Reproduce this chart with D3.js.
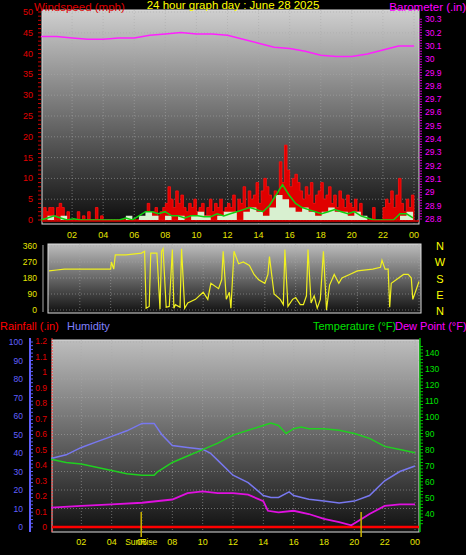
<!DOCTYPE html><html><head><meta charset="utf-8">
<script src="https://cdn.jsdelivr.net/npm/d3@7"></script>
<style>body{margin:0;background:#000}svg{display:block;font-family:"Liberation Sans",Arial,sans-serif}</style></head><body>
<script>
const hourTicks=["02","04","06","08","10","12","14","16","18","20","22","00"];
// wind speed gusts, every 10 minutes 0..24
const gust=[0,3,2,3,3,1,3,4,3,0,2,0,0,0,2,0,1,0,2,0,0,3,0,1,0,0,0,0,0,0,0,0,0,0,0,0,0,0,0,0,0,4,0,2,3,1,2,3,4,8,5,3,7,4,6,3,2,4,3,5,2,3,4,1,3,5,2,4,3,5,2,3,4,3,6,2,5,4,8,3,7,5,6,9,4,7,10,8,6,5,7,6,14,9,18,12,8,10,11,9,7,5,8,6,9,4,6,7,9,5,6,8,4,6,3,7,5,3,6,4,3,5,2,4,0,0,0,0,3,0,0,0,3,5,4,7,3,6,10,4,2,5,3,6,4];
const gustStep=1/6;
const avg=[0,0.5,1,0.5,0,0.3,0,0,0,0,0,0,0,0.5,0,1,2,2,1.5,2,1,1,0.5,1,1,0.8,0.8,1.5,1,1.5,2,2.5,3,2.5,2,3.5,6,8.5,6,4,3,2.5,2,1.5,2,2.5,2,1.5,2,1,0.5,0,0,0,0,1.5,1.5,0.5,1];
const spd=[0,1,0,1,0,0,0,0,0,0,0,0,0,1,0,1,2,1,0,1,0,1,0,1,2,1,0,1,2,2,0,2,3,2,1,3,6,5,3,2,3,2,1,2,3,2,2,1,2,1,0,0,0,0,0,1,2,0,1];
const windStep=0.42;
const baroHours=[0,1,2,3,4,5,6,7,8,9,10,11,12,13,14,15,16,17,18,19,20,21,22,23,24];
const baro=[30.17,30.17,30.16,30.15,30.15,30.16,30.16,30.18,30.19,30.2,30.19,30.19,30.18,30.15,30.12,30.09,30.08,30.06,30.03,30.02,30.02,30.04,30.07,30.1,30.1];
const dirHours=[0,0.5,1,2,3,3.5,4,4.05,4.2,4.3,4.5,5,6,6.2,6.3,6.5,6.6,7,7.2,7.3,7.4,7.6,7.8,8,8.1,8.2,8.5,8.6,8.8,9,9.5,10,10.3,10.5,11,11.2,11.3,11.5,11.7,11.8,12,12.3,12.6,13,13.3,13.6,14,14.2,14.3,14.6,15,15.2,15.3,15.5,15.8,16,16.3,16.5,16.7,16.8,17,17.2,17.4,17.6,17.8,18,18.2,18.5,18.8,19,19.5,20,21,21.5,21.6,21.8,22,22.1,22.2,23,23.3,23.5,23.6,24];
const dirDeg=[220,225,230,230,230,230,230,270,230,310,310,310,320,330,10,20,320,320,5,330,345,15,20,340,10,30,15,345,10,40,60,100,60,150,120,170,330,60,100,10,330,260,270,250,200,170,150,200,300,90,60,30,340,20,60,70,30,30,80,340,40,80,10,60,330,0,140,200,150,180,200,220,230,240,280,230,230,15,150,200,200,180,60,160];
const humHours=[0,1,2,3,4,5,6,6.8,7.3,8,9,10,10.5,11,12,13,14,14.5,15,15.7,16,17,18,19,20,21,22,23,24];
const hum=[37,39,43,46,49,52,56,56,50,44,43,42,40,36,28,24,17,16,16,19,17,15,14,13,14,17,25,30,33];
const tHours=[0,1,2,3,4,5,6,6.8,7,8,9,10,11,12,13,14,14.5,15,15.5,16,16.5,17,18,19,20,21,22,23,24];
const temp=[74,72,71,69,67,65,64,64,66,72,76,80,84,89,92,95,96.5,95,90,93,94,93,93,92,90,87,82,80,78];
const dHours=[0,2,4,6,8,9,10,11,12,13,14,14.3,15,16,17,18,19,19.8,20.5,21,22,23,24];
const dew=[44,45,46,47,49,53,54,53,53,52,48,42,41,42,40,37,35,33,37,40,45,46,46];
const rain=[0,0];

const W=466,H=555;
const svg=d3.select("body").append("svg").attr("width",W).attr("height",H);
const defs=svg.append("defs");
function grad(id,c1,c2){const g=defs.append("linearGradient").attr("id",id).attr("x1",0).attr("y1",0).attr("x2",0).attr("y2",1);
g.append("stop").attr("offset","0").attr("stop-color",c1);g.append("stop").attr("offset","1").attr("stop-color",c2);}
grad("g1","#cfcfcf","#0c0c0c");grad("g2","#bdbdbd","#101010");
function txt(x,y,t,c,size,anchor){svg.append("text").attr("x",x).attr("y",y).attr("fill",c).attr("font-size",size||11).attr("text-anchor",anchor||"start").text(t);}
function panel(x0,x1,y0,y1,g){svg.append("rect").attr("x",x0).attr("y",y0).attr("width",x1-x0).attr("height",y1-y0).attr("fill","url(#"+g+")").attr("stroke","#ddd").attr("stroke-width",1);}
function grid(x,ys,x0,x1,y0,y1){const gg=svg.append("g").attr("stroke","#aaa").attr("stroke-opacity",0.55).attr("stroke-dasharray","1,2");
for(let h=2;h<=24;h+=2)gg.append("line").attr("x1",x(h)).attr("x2",x(h)).attr("y1",y0).attr("y2",y1);
ys.forEach(v=>gg.append("line").attr("x1",x0).attr("x2",x1).attr("y1",v).attr("y2",v));}
function xlabels(x,y){hourTicks.forEach((t,i)=>txt(x(2*(i+1)),y,t,"#e6e600",9,"middle"));}

// ===== top chart
const x1=d3.scaleLinear().domain([0,24]).range([41,414]);
const yw=d3.scaleLinear().domain([0,50]).range([220,12]);
const yb=d3.scaleLinear().domain([28.8,30.3]).range([219,19.3]);
panel(42,419,10,224,"g1");
grid(x1,d3.range(0,51,5).map(yw),42,419,10,224);
txt(34,11,"Windspeed (mph)","#e00000",11.5);txt(233,9,"24 hour graph day : June 28 2025","#ffff00",11.5,"middle");txt(466,11,"Barometer (.in)","#ff00ff",11.5,"end");
d3.range(0,51,5).forEach(v=>txt(33,yw(v)+3,v,"#e00000",9,"end"));
d3.range(0,51,1).forEach(v=>svg.append("line").attr("x1",38).attr("x2",41).attr("y1",yw(v)).attr("y2",yw(v)).attr("stroke","#c00"));
d3.range(28.8,30.31,0.1).forEach(v=>txt(425,yb(v)+3,(+v.toFixed(1)).toString(),"#ff00ff",8.5,"start"));
d3.range(28.8,30.31,0.02).forEach(v=>svg.append("line").attr("x1",419).attr("x2",422).attr("y1",yb(v)).attr("y2",yb(v)).attr("stroke","#c0c"));
const gPts=gust.map((v,i)=>[i*gustStep,v]).filter(d=>d[0]<=24);
svg.append("path").attr("d",d3.area().x(d=>x1(d[0])).y0(yw(0)).y1(d=>yw(d[1])).curve(d3.curveStepAfter)(gPts)).attr("fill","#e00000").attr("stroke","#ff1010").attr("stroke-width",0.8);
const sPts=spd.map((v,i)=>[i*windStep,v]).filter(d=>d[0]<=24);
svg.append("path").attr("d",d3.area().x(d=>x1(d[0])).y0(yw(0)).y1(d=>yw(d[1])).curve(d3.curveStepAfter)(sPts)).attr("fill","#d8f0d0");
const aPts=avg.map((v,i)=>[i*windStep,v]).filter(d=>d[0]<=24);
svg.append("path").attr("d",d3.line().x(d=>x1(d[0])).y(d=>yw(d[1]))(aPts)).attr("fill","none").attr("stroke","#10d010").attr("stroke-width",1.5);
svg.append("line").attr("x1",42).attr("x2",419).attr("y1",yw(0)+1).attr("y2",yw(0)+1).attr("stroke","#e00000").attr("stroke-width",1.5);
svg.append("path").attr("d",d3.line().x((d,i)=>x1(baroHours[i])).y(d=>yb(d))(baro)).attr("fill","none").attr("stroke","#ff20ff").attr("stroke-width",1.5);
xlabels(x1,238);

// ===== wind dir
const x2=d3.scaleLinear().domain([0,24]).range([49,419]);
const yd=d3.scaleLinear().domain([0,360]).range([310,246]);
panel(48,421,244,313,"g2");
grid(x2,[0,90,180,270,360].map(yd),48,421,244,313);
[0,90,180,270,360].forEach(v=>txt(37,yd(v)+3,v,"#e6e600",8.5,"end"));
svg.append("line").attr("x1",43).attr("x2",43).attr("y1",245).attr("y2",312).attr("stroke","#aaa");
svg.append("path").attr("d",d3.line().x((d,i)=>x2(dirHours[i])).y(d=>yd(d))(dirDeg)).attr("fill","none").attr("stroke","#f0f020").attr("stroke-width",1.2);
["N","W","S","E","N"].forEach((t,i)=>txt(440,250+i*16.3,t,"#ffff00",11,"middle"));

// ===== bottom
txt(0,330,"Rainfall (.in)","#ff0000",11);txt(67,330,"Humidity","#8080ff",11);
txt(313,330,"Temperature (°F)","#00e000",11);txt(395,330,"Dew Point (°F)","#ff00ff",11);
const x3=d3.scaleLinear().domain([0,24]).range([51,415]);
const yh=d3.scaleLinear().domain([0,100]).range([527,342]);
const yr=d3.scaleLinear().domain([0,1.2]).range([527,341]);
const yt=d3.scaleLinear().domain([40,140]).range([514,353]);
panel(52,419,340,532,"g2");
grid(x3,d3.range(0,101,10).map(yh),52,419,340,532);
svg.append("line").attr("x1",30).attr("x2",30).attr("y1",338).attr("y2",532).attr("stroke","#6060ff").attr("stroke-width",2);
svg.append("line").attr("x1",52).attr("x2",52).attr("y1",338).attr("y2",532).attr("stroke","#ff3030").attr("stroke-width",1).attr("stroke-dasharray","2,1");
svg.append("line").attr("x1",420).attr("x2",420).attr("y1",338).attr("y2",532).attr("stroke","#00c000").attr("stroke-width",1.5);
d3.range(0,101,10).forEach(v=>txt(23,yh(v)+3,v,"#6060ff",8.5,"end"));
d3.range(0,101,2).forEach(v=>svg.append("line").attr("x1",30).attr("x2",33).attr("y1",yh(v)).attr("y2",yh(v)).attr("stroke","#6060ff"));
d3.range(0,1.21,0.1).forEach(v=>txt(47,yr(v)+3,(+v.toFixed(1)).toString(),"#e00000",8.5,"end"));
d3.range(40,141,10).forEach(v=>txt(425,yt(v)+3,v,"#00e000",8.5,"start"));
d3.range(34,146,2).forEach(v=>svg.append("line").attr("x1",420).attr("x2",423).attr("y1",yt(v)).attr("y2",yt(v)).attr("stroke","#00c000"));
svg.append("line").attr("x1",52).attr("x2",419).attr("y1",yr(rain[0])).attr("y2",yr(rain[1])).attr("stroke","#ff0000").attr("stroke-width",2.5);
svg.append("path").attr("d",d3.line().x((d,i)=>x3(humHours[i])).y(d=>yh(d))(hum)).attr("fill","none").attr("stroke","#7878f0").attr("stroke-width",1.5);
svg.append("path").attr("d",d3.line().x((d,i)=>x3(tHours[i])).y(d=>yt(d))(temp)).attr("fill","none").attr("stroke","#20d020").attr("stroke-width",1.5);
svg.append("path").attr("d",d3.line().x((d,i)=>x3(dHours[i])).y(d=>yt(d))(dew)).attr("fill","none").attr("stroke","#e010e0").attr("stroke-width",1.8);
[5.95,20.45].forEach(h=>svg.append("line").attr("x1",x3(h)).attr("x2",x3(h)).attr("y1",512).attr("y2",537).attr("stroke","#c8b000").attr("stroke-width",1.5));
xlabels(x3,545);
txt(x3(5.95),545,"SunRise","#e6e600",8.5,"middle");
</script></body></html>
